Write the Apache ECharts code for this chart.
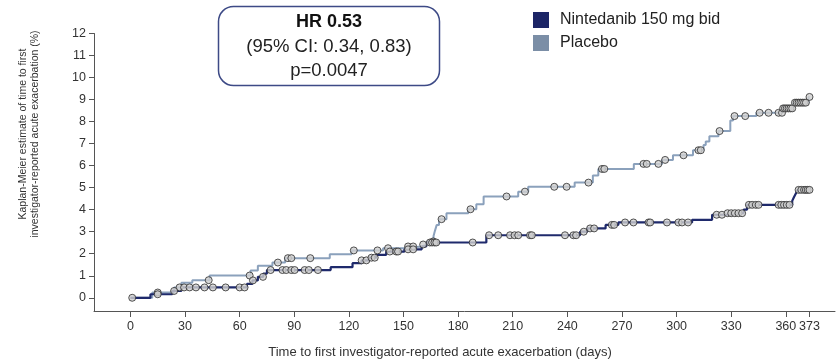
<!DOCTYPE html>
<html>
<head>
<meta charset="utf-8">
<script src="https://cdn.jsdelivr.net/npm/echarts@6/dist/echarts.min.js"></script>
<style>
html, body { margin: 0; padding: 0; background: #fff; }
#chart { width: 837px; height: 360px; }
</style>
</head>
<body>
<div id="chart"></div>
<script>
// KM step points: day where the estimate changes, and the new value (%)
var ninDays = [0, 11, 23, 28, 64, 67, 70, 73, 75, 110, 122, 127, 131, 135, 140.5, 150.5, 160, 162.5,
    195.5, 247, 251, 261, 268, 308.5, 319.5, 327.5, 336.8, 338.7, 363.5, 364.5, 365.5, 366.5, 373];
var ninPct = [0, 0.16, 0.31, 0.47, 0.63, 0.79, 0.95, 1.1, 1.26, 1.39, 1.57, 1.7, 1.82, 1.95, 2.1, 2.2, 2.33, 2.51,
    2.84, 3.0, 3.15, 3.31, 3.42, 3.54, 3.77, 3.84, 4.0, 4.22, 4.4, 4.58, 4.74, 4.9, 4.9];

var plaDays = [0, 12, 24, 28, 34, 43.5, 66, 70, 78, 85, 109.5, 121.5, 138.8, 150, 160, 163, 166.5, 167.3, 168.2,
    169.5, 173.6, 185.6, 190, 194, 213, 218.5, 244, 254, 257, 276.5, 292, 298, 309, 314.8, 316, 318, 323,
    329.5, 331, 343.8, 358, 364, 372.5, 373];
var plaPct = [0, 0.24, 0.47, 0.68, 0.8, 1.01, 1.24, 1.45, 1.6, 1.8, 1.98, 2.15, 2.25, 2.33, 2.42, 2.56, 2.8, 3.05, 3.3,
    3.57, 3.84, 4.02, 4.25, 4.6, 4.82, 5.04, 5.23, 5.55, 5.85, 6.08, 6.26, 6.47, 6.7, 6.94, 7.1, 7.33, 7.57,
    8.05, 8.25, 8.4, 8.6, 8.86, 9.12, 9.12];

// censoring times (days)
var ninCensor = [1, 15, 24, 29.5, 32.5, 36, 40.7, 45.3, 52.3, 60, 62.7, 67.3, 72.8, 77, 83.5, 85.6, 88.4, 90.2,
    95.7, 98, 103, 127, 129.6, 132.4, 134.2, 142.5, 146, 147, 152.5, 155.3, 164.5, 165.7, 167, 168, 188, 197,
    202, 208.5, 211, 213, 219.5, 220.5, 238.7, 243.3, 244.8, 249, 252.5, 254.7, 264.4, 265.7, 271.7, 276.3,
    284.6, 285.5, 294.7, 301, 303, 306.3, 322, 324.9, 328, 330, 332, 334, 336, 339.7, 341.5, 343.5, 345,
    356, 357.5, 359, 360.5, 362, 367, 368.5, 370, 371, 372, 373];
var plaCensor = [15, 27, 43, 65.5, 81, 86.5, 88.4, 98.8, 122.7, 135.7, 141.5, 152.5, 155.3, 160.8, 166.3,
    170.9, 186.8, 206.6, 216.7, 232.8, 239.6, 251.6, 259, 260.3, 281.8, 283.6, 290, 293.7, 303.8, 312, 313.3,
    323.6, 331.8, 337.7, 345.6, 350.5, 356, 357.9, 358.5, 359.5, 360.5, 361.5, 362.5, 363.5, 365, 366, 367,
    368, 369, 370, 371, 373];

var xTicks = [0, 30, 60, 90, 120, 150, 180, 210, 240, 270, 300, 330, 360, 373];
var yTicks = [0, 1, 2, 3, 4, 5, 6, 7, 8, 9, 10, 11, 12];

var seriesNames = ['Nintedanib 150 mg bid', 'Placebo'];
var lineColors = ['#1f2a6c', '#8ba1bc'];
var legendColors = ['#1c2566', '#7b8ea6'];

var FONT = '"Liberation Sans", Arial, sans-serif';

function toPairs(days, pct) {
    return days.map(function (d, i) { return [d, pct[i]]; });
}

// value of the step curve at time t
function stepAt(days, pct, t) {
    var v = pct[0];
    for (var i = 0; i < days.length; i++) {
        if (days[i] <= t) v = pct[i];
    }
    return v;
}

function censorPairs(times, days, pct) {
    return times.map(function (t) { return [t, stepAt(days, pct, t)]; });
}

var chart = echarts.init(document.getElementById('chart'));

var markerStyle = {
    color: '#cfcfcf',
    borderColor: '#2b2b2b',
    borderWidth: 1
};

var option = {
    animation: false,
    textStyle: { fontFamily: FONT },
    grid: { left: 94, right: 2, top: 33.5, bottom: 49 },
    legend: {
        left: 533,
        top: 12,
        orient: 'vertical',
        itemWidth: 16,
        itemHeight: 16,
        itemGap: 7,
        padding: 0,
        textStyle: { fontSize: 16, color: '#222', fontFamily: FONT, padding: [0, 0, 0, 6] },
        data: [
            { name: seriesNames[0], icon: 'rect', itemStyle: { color: legendColors[0] } },
            { name: seriesNames[1], icon: 'rect', itemStyle: { color: legendColors[1] } }
        ]
    },
    xAxis: {
        type: 'value',
        min: -20,
        max: 387,
        splitLine: { show: false },
        axisLine: { onZero: false, lineStyle: { color: '#555', width: 1 } },
        axisTick: { customValues: xTicks, length: 6, lineStyle: { color: '#555' } },
        axisLabel: { customValues: xTicks, margin: 9, fontSize: 12.5, color: '#333', fontFamily: FONT }
    },
    yAxis: {
        type: 'value',
        min: -0.6,
        max: 12,
        splitLine: { show: false },
        axisLine: { show: true, onZero: false, lineStyle: { color: '#555', width: 1 } },
        axisTick: { show: true, customValues: yTicks, length: 5, lineStyle: { color: '#555' } },
        axisLabel: { customValues: yTicks, margin: 8, fontSize: 12.5, color: '#333', fontFamily: FONT }
    },
    graphic: [
        {
            type: 'rect',
            shape: { x: 218.5, y: 6.5, width: 221, height: 79, r: 15 },
            style: { fill: '#fff', stroke: '#3d4a86', lineWidth: 1.5 }
        },
        {
            type: 'text', x: 329, y: 22,
            style: { text: 'HR 0.53', fontSize: 18, fontWeight: 'bold', fill: '#111', font: 'bold 18px ' + FONT,
                textAlign: 'center', textVerticalAlign: 'middle' }
        },
        {
            type: 'text', x: 329, y: 47,
            style: { text: '(95% CI: 0.34, 0.83)', font: '18.5px ' + FONT, fill: '#222',
                textAlign: 'center', textVerticalAlign: 'middle' }
        },
        {
            type: 'text', x: 329, y: 71,
            style: { text: 'p=0.0047', font: '18.5px ' + FONT, fill: '#222',
                textAlign: 'center', textVerticalAlign: 'middle' }
        },
        {
            type: 'text', x: 440, y: 352,
            style: { text: 'Time to first investigator-reported acute exacerbation (days)', font: '13px ' + FONT,
                fill: '#333', textAlign: 'center', textVerticalAlign: 'middle' }
        },
        {
            type: 'text', x: 29, y: 134, rotation: Math.PI / 2,
            style: { text: 'Kaplan-Meier estimate of time to first\ninvestigator-reported acute exacerbation (%)',
                font: '10.5px ' + FONT, lineHeight: 12.5, fill: '#333', textAlign: 'center', textVerticalAlign: 'middle' }
        }
    ],
    series: [
        {
            name: seriesNames[1],
            type: 'line',
            step: 'end',
            symbol: 'none',
            color: lineColors[1],
            lineStyle: { width: 2, color: lineColors[1] },
            data: toPairs(plaDays, plaPct),
            z: 2
        },
        {
            name: seriesNames[0],
            type: 'line',
            step: 'end',
            symbol: 'none',
            color: lineColors[0],
            lineStyle: { width: 2.2, color: lineColors[0] },
            data: toPairs(ninDays, ninPct),
            z: 3
        },
        {
            name: 'Placebo censored',
            type: 'scatter',
            symbol: 'circle',
            symbolSize: 7,
            itemStyle: markerStyle,
            data: censorPairs(plaCensor, plaDays, plaPct),
            z: 4
        },
        {
            name: 'Nintedanib censored',
            type: 'scatter',
            symbol: 'circle',
            symbolSize: 7,
            itemStyle: markerStyle,
            data: censorPairs(ninCensor, ninDays, ninPct),
            z: 4
        }
    ]
};

chart.setOption(option);
</script>
</body>
</html>
